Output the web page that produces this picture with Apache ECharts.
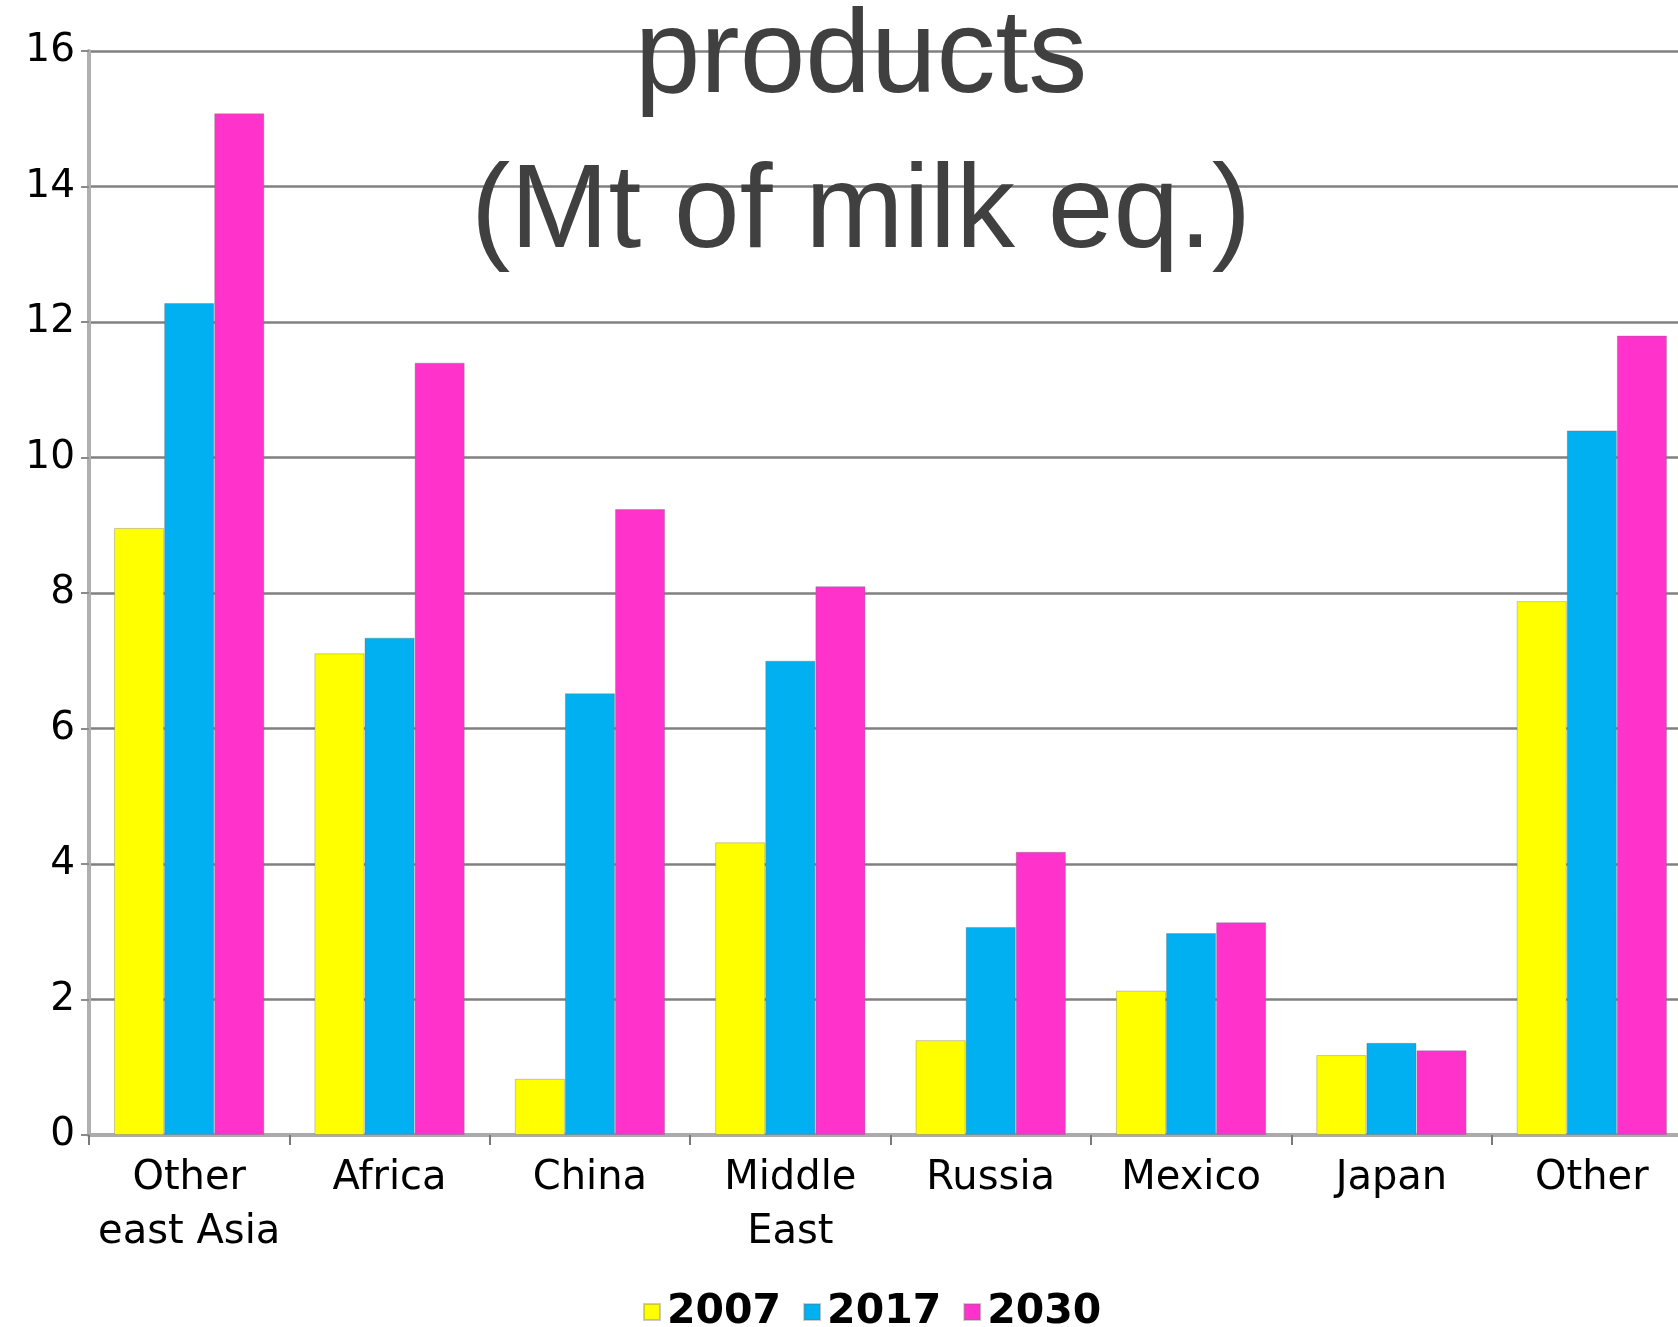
<!DOCTYPE html>
<html>
<head>
<meta charset="utf-8">
<title>Dairy products (Mt of milk eq.)</title>
<script src="https://cdn.jsdelivr.net/npm/echarts@6/dist/echarts.min.js"></script>
<style>
  html, body { margin: 0; padding: 0; background: #ffffff; overflow: hidden; }
  /* the drawing is wider than the window: the last category runs past the right edge */
  #chart { width: 1700px; height: 1327px; }
</style>
</head>
<body>
<div id="chart"></div>
<script>
// Regions on the category axis
const regions = ['Other\neast Asia', 'Africa', 'China', 'Middle\nEast', 'Russia', 'Mexico', 'Japan', 'Other'];

// Volumes per year, Mt of milk equivalent
const values2007 = [8.96, 7.11, 0.83, 4.32, 1.40, 2.13, 1.18, 7.88];
const values2017 = [12.28, 7.34, 6.52, 7.00, 3.07, 2.98, 1.36, 10.40];
const values2030 = [15.08, 11.40, 9.24, 8.10, 4.18, 3.14, 1.25, 11.80];

const seriesNames = ['2007', '2017', '2030'];
const titleLines = ['products', '(Mt of milk eq.)'];

const chart = echarts.init(document.getElementById('chart'), null, { renderer: 'canvas' });

function barSeries(name, data, color) {
  return {
    name: name,
    type: 'bar',
    data: data,
    barGap: '0%',
    barCategoryGap: '25%',
    itemStyle: {
      color: color,
      borderColor: 'rgba(110,110,110,0.35)',
      borderWidth: 1
    },
    z: 2
  };
}

chart.setOption({
  animation: false,
  backgroundColor: '#ffffff',
  title: {
    text: titleLines.join('\n'),
    left: 856,
    top: -23,
    textAlign: 'center',
    textStyle: {
      fontFamily: 'Liberation Sans',
      fontSize: 118,
      fontWeight: 'normal',
      color: '#404040',
      lineHeight: 155
    },
    z: 10
  },
  legend: {
    data: seriesNames,
    left: 638,
    top: 1283,
    icon: 'rect',
    itemWidth: 16,
    itemHeight: 16,
    itemGap: 22,
    textStyle: {
      fontFamily: 'DejaVu Sans',
      fontSize: 41,
      fontWeight: 'bold',
      color: '#000000',
      lineHeight: 48,
      padding: [0, 0, 0, 2]
    }
  },
  grid: {
    left: 89,
    top: 51,
    width: 1603,
    height: 1084,
    containLabel: false
  },
  xAxis: {
    type: 'category',
    data: regions,
    axisLine: { show: true, lineStyle: { color: '#ababab', width: 4 } },
    axisTick: { show: true, length: 10, inside: false, lineStyle: { color: '#7a7a7a', width: 2 } },
    axisLabel: {
      interval: 0,
      margin: 17,
      fontFamily: 'DejaVu Sans',
      fontSize: 40,
      lineHeight: 54,
      color: '#000000'
    }
  },
  yAxis: {
    type: 'value',
    min: 0,
    max: 16,
    interval: 2,
    axisLine: { show: true, lineStyle: { color: '#b0b0b0', width: 4 } },
    axisTick: { show: true, length: 8, lineStyle: { color: '#8a8a8a', width: 2 } },
    axisLabel: {
      margin: 14,
      fontFamily: 'DejaVu Sans',
      fontSize: 39,
      color: '#000000'
    },
    splitLine: { show: true, lineStyle: { color: '#808080', width: 2.5 } }
  },
  series: [
    barSeries(seriesNames[0], values2007, '#FFFF00'),
    barSeries(seriesNames[1], values2017, '#00B0F0'),
    barSeries(seriesNames[2], values2030, '#FF33CC')
  ]
});
</script>
</body>
</html>
